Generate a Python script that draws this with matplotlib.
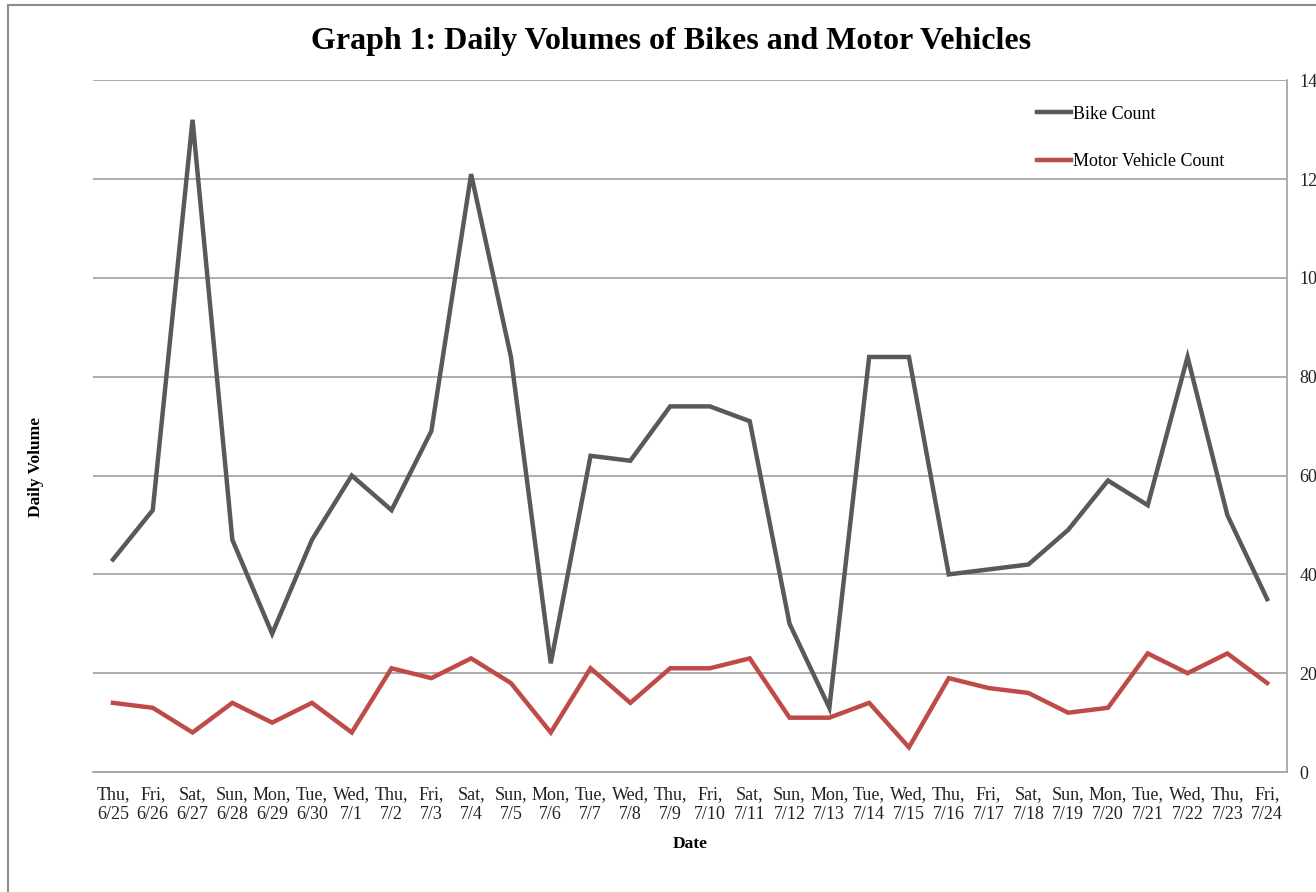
import matplotlib.pyplot as plt
import matplotlib.patches as patches
import numpy as np

plt.rcParams['font.family'] = ['Liberation Serif', 'DejaVu Serif']

# Daily counts
days = ['Thu', 'Fri', 'Sat', 'Sun', 'Mon', 'Tue', 'Wed',
        'Thu', 'Fri', 'Sat', 'Sun', 'Mon', 'Tue', 'Wed',
        'Thu', 'Fri', 'Sat', 'Sun', 'Mon', 'Tue', 'Wed',
        'Thu', 'Fri', 'Sat', 'Sun', 'Mon', 'Tue', 'Wed',
        'Thu', 'Fri']
dates = ['6/25', '6/26', '6/27', '6/28', '6/29', '6/30', '7/1',
         '7/2', '7/3', '7/4', '7/5', '7/6', '7/7', '7/8',
         '7/9', '7/10', '7/11', '7/12', '7/13', '7/14', '7/15',
         '7/16', '7/17', '7/18', '7/19', '7/20', '7/21', '7/22',
         '7/23', '7/24']
bike_count = [43, 53, 132, 47, 28, 47, 60, 53, 69, 121, 84, 22, 64, 63, 74,
              74, 71, 30, 13, 84, 84, 40, 41, 42, 49, 59, 54, 84, 52, 35]
motor_count = [14, 13, 8, 14, 10, 14, 8, 21, 19, 23, 18, 8, 21, 14, 21,
               21, 23, 11, 11, 14, 5, 19, 17, 16, 12, 13, 24, 20, 24, 18]
y_ticks = [0, 20, 40, 60, 80, 100, 120, 140]

fig = plt.figure(figsize=(13.16, 8.92), dpi=100)
ax = fig.add_axes([0.0707, 0.1345, 0.9073, 0.7755])

x = np.arange(len(days))
ax.plot(x, bike_count, color='#595959', lw=3.2, label='Bike Count', solid_joinstyle='miter')
ax.plot(x, motor_count, color='#BE4B48', lw=3.2, label='Motor Vehicle Count', solid_joinstyle='miter')

ax.set_xticks(x)
ax.set_xticklabels([f'{d},\n{t}' for d, t in zip(days, dates)], linespacing=1.2)
ax.set_xlim(-0.5, len(days) - 0.5)
ax.set_ylim(0, 140)
ax.set_yticks(y_ticks)
ax.yaxis.tick_right()
ax.tick_params(axis='both', length=0, labelsize=13, colors='#222222')
ax.tick_params(axis='y', pad=9)
ax.tick_params(axis='x', pad=10)

ax.grid(axis='y', color='#a6a6a6', lw=1.3)
ax.set_axisbelow(True)
for side in ['left', 'top']:
    ax.spines[side].set_visible(False)
for side in ['right', 'bottom']:
    ax.spines[side].set_color('#a6a6a6')
    ax.spines[side].set_linewidth(1.3)

ax.set_xlabel('Date', fontsize=12.5, fontweight='bold', labelpad=10)
fig.text(0.027, 0.477, 'Daily Volume', rotation=90, fontsize=12.5, fontweight='bold',
         ha='center', va='center')
fig.text(0.51, 0.953, 'Graph 1: Daily Volumes of Bikes and Motor Vehicles',
         fontsize=23, fontweight='bold', ha='center', va='center')

ax.legend(loc='upper left', bbox_to_anchor=(0.777, 0.987), frameon=False,
          fontsize=13, handlelength=1.9, handletextpad=0.1, labelspacing=1.7)

fig.patches.append(patches.Rectangle((8 / 1316, -0.1), 1.2, 1.1 - 5 / 892,
                                     transform=fig.transFigure, fill=False,
                                     edgecolor='#8c8c8c', lw=1.5))

fig.savefig('out.png', dpi=100)
